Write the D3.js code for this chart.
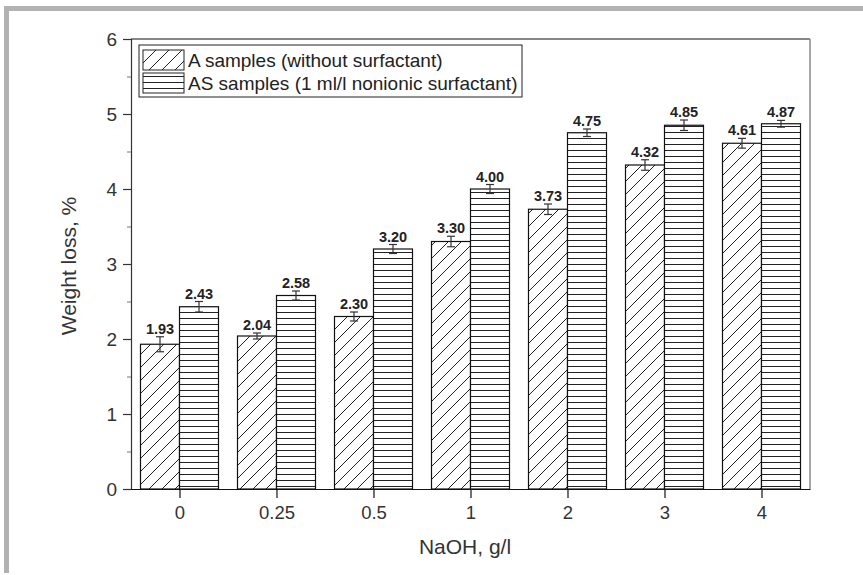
<!DOCTYPE html>
<html>
<head>
<meta charset="utf-8">
<script src="https://cdn.jsdelivr.net/npm/d3@7"></script>
<style>
  body { margin: 0; background: #fff; }
  svg { display: block; font-family: 'Liberation Sans', Arial, sans-serif; }
</style>
</head>
<body>
<div id="chart"></div>
<script>
// data
const categories = ['0', '0.25', '0.5', '1', '2', '3', '4']
const seriesNames = ['A samples (without surfactant)', 'AS samples (1 ml/l nonionic surfactant)']
const valuesA = [1.93, 2.04, 2.30, 3.30, 3.73, 4.32, 4.61]
const valuesAS = [2.43, 2.58, 3.20, 4.00, 4.75, 4.85, 4.87]
const errorsA = [0.10, 0.04, 0.06, 0.07, 0.07, 0.07, 0.065]
const errorsAS = [0.07, 0.06, 0.06, 0.06, 0.05, 0.07, 0.045]
const yTicks = [0, 1, 2, 3, 4, 5, 6]

const width = 863
const height = 575
const margin = { top: 39, right: 53, bottom: 86, left: 131 }
const innerW = width - margin.left - margin.right
const innerH = height - margin.top - margin.bottom
const textColor = '#333'
const fontFamily = 'Liberation Sans, Arial, sans-serif'

const svg = d3.select('#chart').append('svg')
  .attr('width', width)
  .attr('height', height)

// grey frame on top and left
svg.append('rect').attr('x', 4).attr('y', 6).attr('width', width - 4).attr('height', 5).attr('fill', '#b2b2b2')
svg.append('rect').attr('x', 4).attr('y', 6).attr('width', 5).attr('height', height - 8).attr('fill', '#b2b2b2')

// hatch patterns
const defs = svg.append('defs')
const diag = defs.append('pattern')
  .attr('id', 'diag')
  .attr('patternUnits', 'userSpaceOnUse')
  .attr('width', 13)
  .attr('height', 13)
diag.append('rect').attr('width', 13).attr('height', 13).attr('fill', '#fff')
diag.append('path')
  .attr('d', 'M0,13 L13,0 M-3,3 L3,-3 M10,16 L16,10')
  .attr('stroke', '#222')
  .attr('stroke-width', 1)

const horiz = defs.append('pattern')
  .attr('id', 'horiz')
  .attr('patternUnits', 'userSpaceOnUse')
  .attr('width', 10)
  .attr('height', 6)
  .attr('y', margin.top + innerH)
horiz.append('rect').attr('width', 10).attr('height', 6).attr('fill', '#fff')
horiz.append('line')
  .attr('x1', 0).attr('x2', 10)
  .attr('y1', 0.5).attr('y2', 0.5)
  .attr('stroke', '#222')
  .attr('stroke-width', 1)

const g = svg.append('g').attr('transform', `translate(${margin.left},${margin.top})`)

const x = d3.scaleLinear().domain([-0.5, categories.length - 0.5]).range([0, innerW])
const y = d3.scaleLinear().domain([0, 6]).range([innerH, 0])
const barW = 39

// plot box top and right
g.append('line').attr('x1', 0).attr('x2', innerW).attr('y1', 0).attr('y2', 0)
  .attr('stroke', '#111').attr('stroke-width', 1.2)
g.append('line').attr('x1', innerW).attr('x2', innerW).attr('y1', 0).attr('y2', innerH)
  .attr('stroke', '#888').attr('stroke-width', 1.5)

// bars
const series = [
  { values: valuesA, errors: errorsA, fill: 'url(#diag)', offset: -barW },
  { values: valuesAS, errors: errorsAS, fill: 'url(#horiz)', offset: 0 }
]

series.forEach(s => {
  const grp = g.append('g')
  grp.selectAll('rect')
    .data(s.values)
    .join('rect')
    .attr('x', (d, i) => x(i) + s.offset)
    .attr('y', d => y(d))
    .attr('width', barW)
    .attr('height', d => innerH - y(d))
    .attr('fill', s.fill)
    .attr('stroke', '#111')
    .attr('stroke-width', 1.2)

  const err = grp.selectAll('g.err')
    .data(s.values)
    .join('g')
    .attr('class', 'err')
    .attr('stroke', '#333')
    .attr('stroke-width', 1.2)
  const cx = i => x(i) + s.offset + barW / 2
  err.append('line')
    .attr('x1', (d, i) => cx(i)).attr('x2', (d, i) => cx(i))
    .attr('y1', (d, i) => y(d + s.errors[i])).attr('y2', (d, i) => y(d - s.errors[i]))
  err.append('line')
    .attr('x1', (d, i) => cx(i) - 4).attr('x2', (d, i) => cx(i) + 4)
    .attr('y1', (d, i) => y(d + s.errors[i])).attr('y2', (d, i) => y(d + s.errors[i]))
  err.append('line')
    .attr('x1', (d, i) => cx(i) - 4).attr('x2', (d, i) => cx(i) + 4)
    .attr('y1', (d, i) => y(d - s.errors[i])).attr('y2', (d, i) => y(d - s.errors[i]))

  grp.selectAll('text')
    .data(s.values)
    .join('text')
    .attr('x', (d, i) => cx(i))
    .attr('y', (d, i) => y(d + s.errors[i]) - 3)
    .attr('text-anchor', 'middle')
    .attr('font-size', 14.5)
    .attr('font-weight', 'bold')
    .attr('fill', '#222')
    .text(d => d.toFixed(2))
})

// y axis
const yAxis = g.append('g')
  .call(d3.axisLeft(y).tickValues(yTicks).tickFormat(d3.format('d')).tickSize(8).tickPadding(6))
yAxis.select('.domain').attr('stroke', '#333').attr('stroke-width', 1.2)
yAxis.selectAll('.tick line').attr('stroke', '#333').attr('stroke-width', 1.2)
yAxis.selectAll('text').attr('font-size', 19).attr('fill', textColor).attr('font-family', fontFamily)
g.append('g')
  .call(d3.axisLeft(y).tickValues(d3.range(0.5, 6, 1)).tickFormat('').tickSize(4))
  .call(a => a.select('.domain').remove())
  .selectAll('.tick line').attr('stroke', '#777').attr('stroke-width', 1)

// x axis
const xAxis = g.append('g')
  .attr('transform', `translate(0,${innerH})`)
  .call(d3.axisBottom(x).tickValues(d3.range(categories.length)).tickFormat(i => categories[i]).tickSize(9).tickPadding(8).tickSizeOuter(0))
xAxis.select('.domain').attr('stroke', '#111').attr('stroke-width', 1.2)
xAxis.selectAll('.tick line').attr('stroke', '#111').attr('stroke-width', 1.2)
xAxis.selectAll('text').attr('font-size', 18.5).attr('fill', textColor).attr('font-family', fontFamily)

// axis titles
svg.append('text')
  .attr('x', 465)
  .attr('y', 554)
  .attr('text-anchor', 'middle')
  .attr('font-size', 21)
  .attr('fill', textColor)
  .text('NaOH, g/l')

svg.append('text')
  .attr('transform', `translate(76,${margin.top + innerH / 2 + 2}) rotate(-90)`)
  .attr('text-anchor', 'middle')
  .attr('font-size', 21)
  .attr('fill', textColor)
  .text('Weight loss, %')

// legend
const legend = svg.append('g').attr('transform', 'translate(139,45)')
legend.append('rect')
  .attr('width', 383).attr('height', 52)
  .attr('fill', '#fff').attr('stroke', '#222').attr('stroke-width', 1)
const fills = ['url(#diag)', 'url(#horiz)']
seriesNames.forEach((name, i) => {
  const row = legend.append('g').attr('transform', `translate(4,${5 + i * 23})`)
  row.append('rect')
    .attr('width', 41).attr('height', 20)
    .attr('fill', fills[i]).attr('stroke', '#222').attr('stroke-width', 1)
  row.append('text')
    .attr('x', 45).attr('y', 17)
    .attr('font-size', 19)
    .attr('fill', '#222')
    .text(name)
})
</script>
</body>
</html>
